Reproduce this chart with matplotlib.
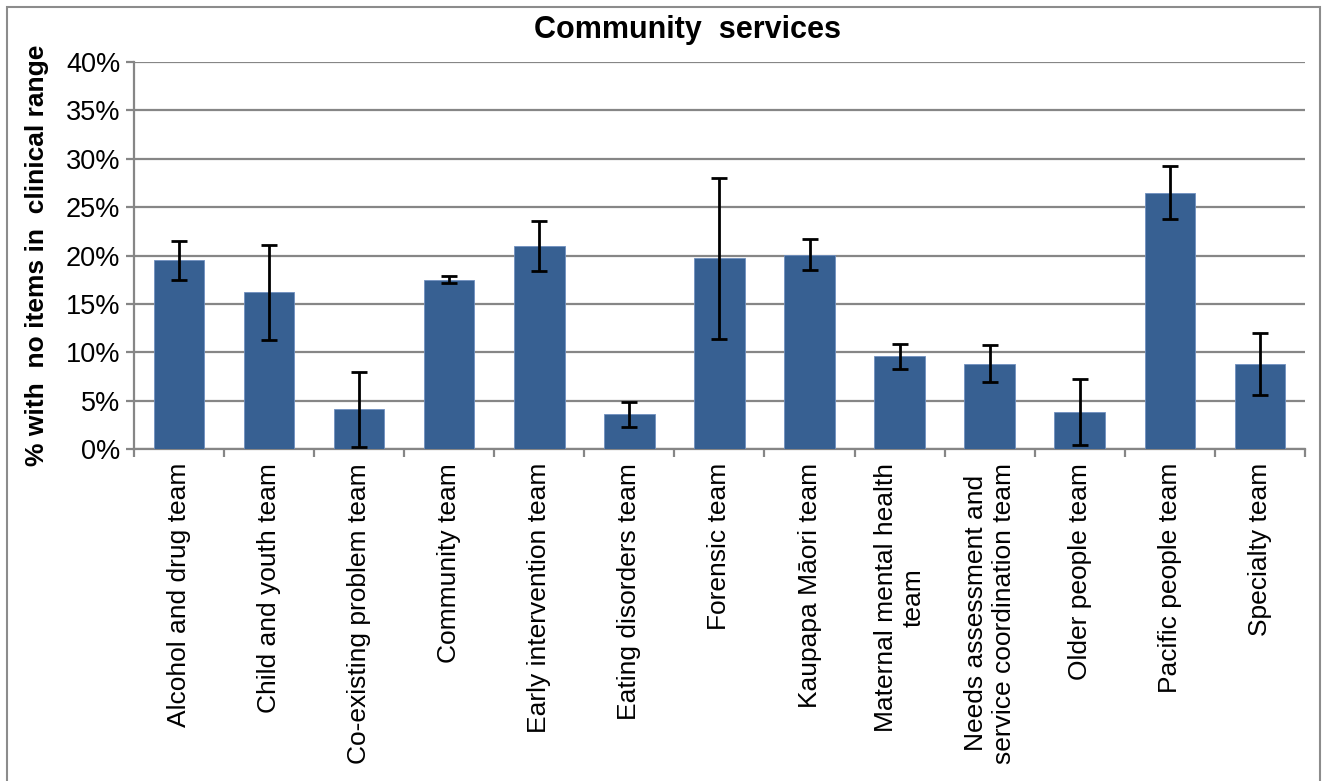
import numpy as np
import matplotlib
matplotlib.use('Agg')
import matplotlib.pyplot as plt
from matplotlib.patches import Rectangle

plt.rcParams['font.family'] = ['Liberation Sans', 'DejaVu Sans']

# Data
teams = ['Alcohol and drug team', 'Child and youth team', 'Co-existing problem team',
         'Community team', 'Early intervention team', 'Eating disorders team',
         'Forensic team', 'Kaupapa Māori team', 'Maternal mental health\nteam',
         'Needs assessment and\nservice coordination team', 'Older people team',
         'Pacific people team', 'Specialty team']
pct = [19.5, 16.2, 4.1, 17.5, 21.0, 3.6, 19.7, 20.1, 9.6, 8.8, 3.8, 26.5, 8.8]
err = [2.0, 4.9, 3.9, 0.35, 2.6, 1.3, 8.3, 1.6, 1.3, 1.9, 3.4, 2.7, 3.2]

grid_col = '#868686'
bar_col = '#376092'

fig = plt.figure(figsize=(13.23, 7.81), dpi=100)
ax = fig.add_axes([0.1013, 0.4251, 0.885, 0.4955])

x = np.arange(len(teams))
ax.bar(x, pct, width=0.56, color=bar_col, edgecolor='#6f8fbf', linewidth=0.6, zorder=3)
ax.errorbar(x, pct, yerr=err, fmt='none', ecolor='black', elinewidth=2.0,
            capsize=5.5, capthick=2.0, zorder=4)

ax.set_xlim(-0.5, len(teams) - 0.5)
ax.set_ylim(0, 40)
ax.set_yticks(np.arange(0, 41, 5))
ax.set_yticklabels([f'{v}%' for v in range(0, 41, 5)], fontsize=19.5)
ax.yaxis.grid(True, color=grid_col, linewidth=1.6, zorder=0)
ax.set_axisbelow(True)

ax.set_xticks(x)
ax.set_xticklabels(teams, rotation=90, fontsize=19, va='top', ha='center',
                   multialignment='center')
ax.tick_params(axis='x', which='major', length=0, pad=10)
ax.set_xticks(np.arange(-0.5, len(teams), 1), minor=True)
ax.tick_params(axis='x', which='minor', length=6, width=1.6, color=grid_col, direction='out')
ax.tick_params(axis='y', length=6, width=1.6, color=grid_col, pad=4)

for s in ['top', 'right']:
    ax.spines[s].set_visible(False)
for s in ['left', 'bottom']:
    ax.spines[s].set_color(grid_col)
    ax.spines[s].set_linewidth(1.6)

ax.set_ylabel('% with  no items in  clinical range', fontsize=19, fontweight='bold', labelpad=12)
fig.text(0.52, 0.962, 'Community  services', ha='center', va='center',
         fontsize=22, fontweight='bold')

# outer chart border
fig.patches.append(Rectangle((0.0055, -0.01), 0.992, 1.001, transform=fig.transFigure,
                             fill=False, edgecolor='#8c8c8c', linewidth=1.5))

fig.savefig('out.png', dpi=100)
